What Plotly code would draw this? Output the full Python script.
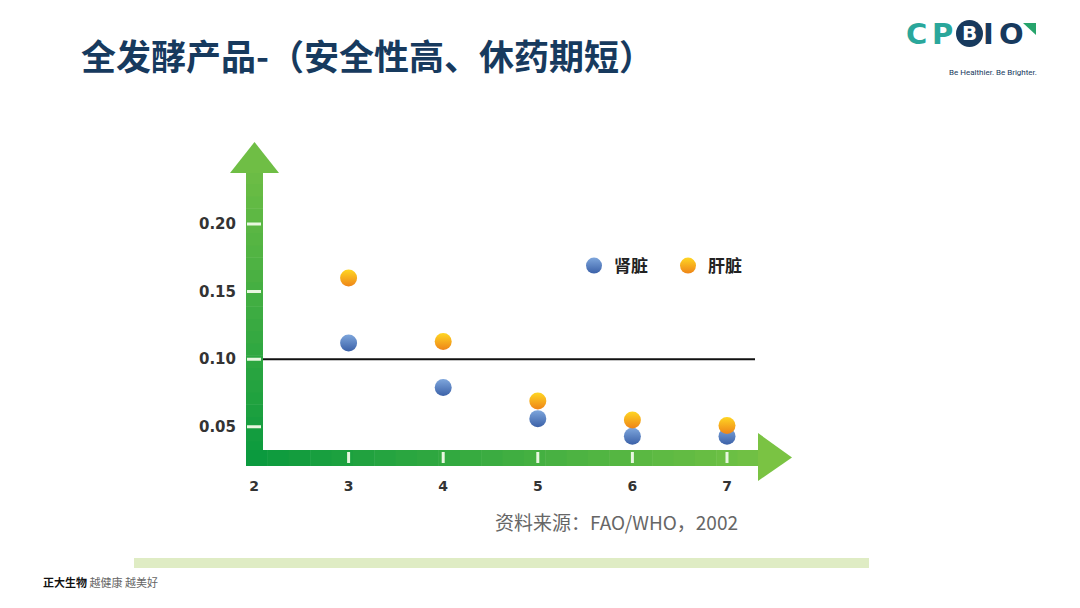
import plotly.graph_objects as go

W, H = 1080, 608
OFF = 8  # page margin the browser adds around the figure

# ── Data ─────────────────────────────────────────────────────────────
doses = [3, 4, 5, 6, 7]
kidney = [0.112, 0.079, 0.056, 0.043, 0.043]   # 肾脏
liver = [0.160, 0.113, 0.069, 0.055, 0.051]    # 肝脏
x_ticks = [2, 3, 4, 5, 6, 7]
y_ticks = [0.05, 0.10, 0.15, 0.20]
y_tick_labels = ["0.05", "0.10", "0.15", "0.20"]
limit = 0.10

TITLE = "全发酵产品-（安全性高、休药期短）"
SOURCE = "资料来源：FAO/WHO，2002"

FONT = "Noto Sans CJK SC"


def px(x):
    return (x - OFF) / W


def py(y):
    return 1 - (y - OFF) / H


def mix(c1, c2, t):
    a = [int(c1[i:i + 2], 16) for i in (1, 3, 5)]
    b = [int(c2[i:i + 2], 16) for i in (1, 3, 5)]
    return "#%02x%02x%02x" % tuple(round(a[k] + (b[k] - a[k]) * t) for k in range(3))


fig = go.Figure()

fig.add_trace(go.Scatter(
    x=doses, y=kidney, name="肾脏", mode="markers",
    marker=dict(size=17, color="#7ea6dc",
                gradient=dict(type="vertical", color="#3b61a8")),
))
fig.add_trace(go.Scatter(
    x=doses, y=liver, name="肝脏", mode="markers",
    marker=dict(size=17, color="#ffd623",
                gradient=dict(type="vertical", color="#ee8418")),
))

shapes = []

# ── Green arrow axes (stepped gradient) ─────────────────────────────
dark, light = "#0b9a3e", "#6fbe45"
n = 24
v_top, v_bot = 172, 466
for i in range(n):
    y0 = v_bot - (v_bot - v_top) * i / n
    y1 = v_bot - (v_bot - v_top) * (i + 1) / n
    shapes.append(dict(type="rect", xref="paper", yref="paper",
                       x0=px(246), x1=px(263), y0=py(y0), y1=py(y1 - 0.5),
                       fillcolor=mix(dark, light, i / n), line_width=0, layer="below"))
h_left, h_right = 246, 759
for i in range(n):
    x0 = h_left + (h_right - h_left) * i / n
    x1 = h_left + (h_right - h_left) * (i + 1) / n
    shapes.append(dict(type="rect", xref="paper", yref="paper",
                       x0=px(x0), x1=px(x1 + 0.5), y0=py(450), y1=py(466),
                       fillcolor=mix(dark, "#74c244", i / n), line_width=0, layer="below"))
shapes.append(dict(type="path", xref="paper", yref="paper",
                   path=f"M {px(230)},{py(173)} L {px(254.5)},{py(142)} L {px(279)},{py(173)} Z",
                   fillcolor=light, line_width=0, layer="below"))
shapes.append(dict(type="path", xref="paper", yref="paper",
                   path=f"M {px(758)},{py(433)} L {px(792)},{py(457.5)} L {px(758)},{py(481)} Z",
                   fillcolor="#7ac343", line_width=0, layer="below"))

# white tick marks on the arrows
for t in x_ticks[1:]:
    shapes.append(dict(type="line", xref="x", yref="paper", x0=t, x1=t,
                       y0=py(452), y1=py(463), line=dict(color="#e8f7e0", width=3)))
for t in y_ticks:
    shapes.append(dict(type="line", xref="paper", yref="y", x0=px(247), x1=px(261),
                       y0=t, y1=t, line=dict(color="#e8f7e0", width=3)))

# 0.10 reference line
shapes.append(dict(type="line", xref="paper", yref="y", x0=px(263), x1=px(755),
                   y0=limit, y1=limit, line=dict(color="#111111", width=2), layer="below"))

# footer band
shapes.append(dict(type="rect", xref="paper", yref="paper",
                   x0=px(134), x1=px(869), y0=py(558), y1=py(568),
                   fillcolor="#dfecc4", line_width=0, layer="below"))

# logo circle + corner mark
shapes.append(dict(type="circle", xref="paper", yref="paper",
                   x0=px(956), x1=px(983), y0=py(20), y1=py(47),
                   fillcolor="#173a5e", line_width=0))
shapes.append(dict(type="path", xref="paper", yref="paper",
                   path=f"M {px(1023)},{py(23)} L {px(1036)},{py(23)} L {px(1036)},{py(35)} Z",
                   fillcolor="#27a46c", line_width=0))


def note(text, x, y, size, color, family=FONT, anchor="left"):
    return dict(text=text, x=px(x), y=py(y), xref="paper", yref="paper",
                xanchor=anchor, yanchor="middle", showarrow=False,
                font=dict(family=family, size=size, color=color))


LOGO_FONT = "DejaVu Sans"
annotations = [
    note(f"<b>{TITLE}</b>", 79, 55, 35, "#173a5e"),
    note(SOURCE, 493, 521, 19, "#666666"),
    note("<b>正大生物</b> <span style='color:#666666'>越健康 越美好</span>", 41, 582, 11, "#111111"),
    note("<b>C</b>", 916, 34, 29, "#2aa79b", LOGO_FONT, "center"),
    note("<b>P</b>", 942, 34, 29, "#2aa79b", LOGO_FONT, "center"),
    note("<b>B</b>", 969.5, 33.5, 20, "#ffffff", LOGO_FONT, "center"),
    note("<b>I</b>", 988, 34, 29, "#173a5e", LOGO_FONT, "center"),
    note("<b>O</b>", 1011, 34, 29, "#173a5e", LOGO_FONT, "center"),
    note("Be Healthier. Be Brighter.", 993, 72, 8, "#173a5e", "Liberation Sans Narrow, Roboto", "center"),
]

fig.update_layout(
    width=W, height=H,
    margin=dict(l=0, r=0, t=0, b=0),
    paper_bgcolor="#ffffff",
    plot_bgcolor="rgba(0,0,0,0)",
    shapes=shapes,
    annotations=annotations,
    showlegend=True,
    legend=dict(orientation="h", x=px(574), y=py(266), xanchor="left", yanchor="middle",
                font=dict(family=FONT, size=17, color="#222222", weight=700),
                itemsizing="trace", entrywidth=49, bgcolor="rgba(0,0,0,0)"),
    xaxis=dict(
        domain=[px(206.7), px(821.6)], range=[1.5, 8.0],
        tickvals=x_ticks, ticktext=[str(t) for t in x_ticks],
        anchor="free", position=py(466),
        ticks="outside", ticklen=7, tickcolor="rgba(0,0,0,0)",
        showgrid=False, zeroline=False, showline=False,
        tickfont=dict(family="DejaVu Sans", size=14, color="#333333", weight=700),
    ),
    yaxis=dict(
        domain=[py(494.3), py(156.5)], range=[0.0, 0.25],
        tickvals=y_ticks, ticktext=y_tick_labels,
        anchor="free", position=px(246),
        ticks="outside", ticklen=7, tickcolor="rgba(0,0,0,0)",
        showgrid=False, zeroline=False, showline=False,
        tickfont=dict(family="DejaVu Sans", size=15, color="#333333", weight=700),
    ),
)

fig.write_html("out.html")
